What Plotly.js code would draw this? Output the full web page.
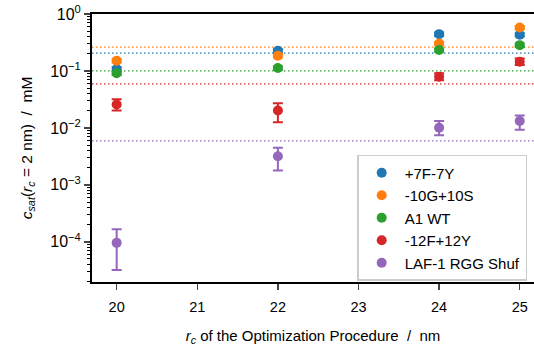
<!DOCTYPE html>
<html>
<head>
<meta charset="utf-8">
<script src="https://cdn.plot.ly/plotly-3.0.1.min.js"></script>
<style>html,body{margin:0;padding:0;background:#fff}#chart{width:534px;height:347px}</style>
</head>
<body>
<div id="chart"></div>
<script>
// ---- data ----
const rc = [20, 22, 24, 25];
const names = ["+7F-7Y", "-10G+10S", "A1 WT", "-12F+12Y", "LAF-1 RGG Shuf"];
const colors = ["#1f77b4", "#ff7f0e", "#2ca02c", "#d62728", "#9467bd"];

const csat_7F7Y   = [0.108, 0.226, 0.443, 0.431];
const csat_10G10S = [0.151, 0.185, 0.304, 0.578];
const csat_A1WT   = [0.091, 0.113, 0.233, 0.284];
const csat_12F12Y = [0.0257, 0.0202, 0.0795, 0.1455];
const csat_LAF1   = [0.000096, 0.00318, 0.0101, 0.0132];

const errUp_7F7Y   = [0.008, 0.015, 0.03, 0.03];
const errDn_7F7Y   = [0.008, 0.015, 0.03, 0.03];
const errUp_10G10S = [0.01, 0.012, 0.02, 0.04];
const errDn_10G10S = [0.01, 0.012, 0.02, 0.04];
const errUp_A1WT   = [0.006, 0.008, 0.015, 0.02];
const errDn_A1WT   = [0.006, 0.008, 0.015, 0.02];
const errUp_12F12Y = [0.0062, 0.0069, 0.012, 0.02];
const errDn_12F12Y = [0.0055, 0.0076, 0.011, 0.018];
const errUp_LAF1   = [0.00007, 0.0013, 0.0031, 0.0034];
const errDn_LAF1   = [0.000064, 0.0014, 0.0027, 0.0039];

// experimental reference concentrations (dotted lines)
const refCsat = [0.206, 0.263, 0.1, 0.0593, 0.0059];

const yTickVals = [1, 0.1, 0.01, 0.001, 0.0001];
const yTickText = ["10<sup>0</sup>", "10<sup>\u22121</sup>", "10<sup>\u22122</sup>", "10<sup>\u22123</sup>", "10<sup>\u22124</sup>"];
const xTickVals = [20, 21, 22, 23, 24, 25];

// ---- build ----
const series = [csat_7F7Y, csat_10G10S, csat_A1WT, csat_12F12Y, csat_LAF1];
const ups = [errUp_7F7Y, errUp_10G10S, errUp_A1WT, errUp_12F12Y, errUp_LAF1];
const dns = [errDn_7F7Y, errDn_10G10S, errDn_A1WT, errDn_12F12Y, errDn_LAF1];

const traces = series.map((y, i) => ({
  type: "scatter", mode: "markers", name: names[i], x: rc, y: y,
  marker: {color: colors[i], size: 10},
  error_y: {type: "data", symmetric: false, array: ups[i], arrayminus: dns[i],
            color: colors[i], thickness: 2, width: 5}
}));

const minorVals = [];
for (let e = -5; e <= -1; e++) {
  for (let m = 2; m <= 9; m++) minorVals.push(m * Math.pow(10, e));
}

const shapes = refCsat.map((v, i) => ({
  type: "line", xref: "paper", x0: 0, x1: 1, yref: "y", y0: v, y1: v,
  line: {color: colors[i], width: 1.3, dash: "1.5px,2.5px"}, layer: "below"
}));

const fam = "Liberation Sans, Arial, sans-serif";
const font = {family: fam, size: 15, color: "#000"};

const layout = {
  width: 534, height: 347,
  margin: {l: 92, r: 0, t: 14, b: 65},
  paper_bgcolor: "#fff", plot_bgcolor: "#fff",
  font: font,
  showlegend: true,
  xaxis: {
    range: [19.694, 25.177], tickvals: xTickVals, ticks: "outside", ticklen: 6, tickwidth: 1.5,
    showline: true, linewidth: 2, linecolor: "#000", mirror: true, showgrid: false, zeroline: false,
    tickfont: {family: fam, size: 14.5, color: "#000"}, ticklabelstandoff: 5,
    title: {text: "<i>r</i><sub><i>c</i></sub> of the Optimization Procedure  /  nm", font: font, standoff: 16}
  },
  yaxis: {
    type: "log", range: [-4.705, 0], tickvals: yTickVals, ticktext: yTickText,
    ticks: "outside", ticklen: 6, tickwidth: 1.5,
    minor: {tickvals: minorVals, ticks: "outside", ticklen: 3, tickwidth: 1, tickcolor: "#000"},
    showline: true, linewidth: 2, linecolor: "#000", mirror: false, showgrid: false, zeroline: false,
    tickfont: {family: fam, size: 16, color: "#000"},
    title: {text: "<i>c</i><sub><i>sat</i></sub>(<i>r</i><sub><i>c</i></sub> = 2 nm)  /  mM",
            font: {family: fam, size: 15.5, color: "#000"}, standoff: 14}
  },
  legend: {
    x: 0.6, y: 0.474, xanchor: "left", yanchor: "top",
    bgcolor: "rgba(255,255,255,0.8)", bordercolor: "#cccccc", borderwidth: 1.5,
    font: {family: fam, size: 15, color: "#000"}, itemwidth: 36, tracegroupgap: 0
  },
  shapes: shapes
};

Plotly.newPlot("chart", traces, layout, {displayModeBar: false, staticPlot: true});
</script>
</body>
</html>
